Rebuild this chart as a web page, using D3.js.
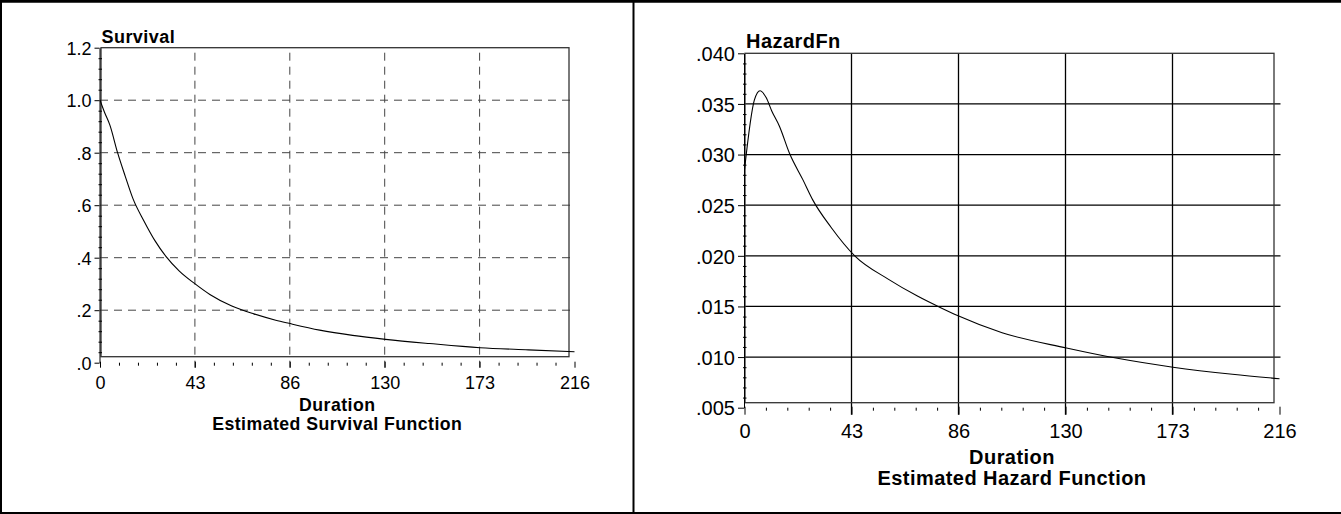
<!DOCTYPE html>
<html>
<head>
<meta charset="utf-8">
<script src="https://cdn.jsdelivr.net/npm/d3@7"></script>
<style>
  body { margin: 0; background: white; }
  svg text { font-family: "Liberation Sans", Arial, sans-serif; fill: black; }
</style>
</head>
<body>
<div id="chart"></div>
<script>
// ---- data ----
const xTicks = [0, 43.2, 86.4, 129.6, 172.8, 216]
const xTickLabels = ["0", "43", "86", "130", "173", "216"]

const survTicks = [0, 0.2, 0.4, 0.6, 0.8, 1.0, 1.2]
const survTickLabels = [".0", ".2", ".4", ".6", ".8", "1.0", "1.2"]
const survTime = [0, 2, 4.5, 8, 11.5, 15, 20, 25, 30, 36, 43, 50, 60, 70, 80, 86, 100, 115, 130, 150, 173, 195, 216]
const survValue = [1.0, 0.955, 0.905, 0.80, 0.71, 0.625, 0.54, 0.465, 0.405, 0.35, 0.302, 0.26, 0.216, 0.186, 0.162, 0.15, 0.124, 0.104, 0.089, 0.073, 0.057, 0.049, 0.042]

const hazTicks = [0.005, 0.010, 0.015, 0.020, 0.025, 0.030, 0.035, 0.040]
const hazTickLabels = [".005", ".010", ".015", ".020", ".025", ".030", ".035", ".040"]
const hazTime = [0, 4, 6.3, 8.8, 11, 14.1, 18.2, 23.6, 27.6, 35, 44.5, 58, 70, 79, 86, 104, 130, 150, 173, 197, 216]
const hazValue = [0.0285, 0.0354, 0.0363, 0.0356, 0.0343, 0.0328, 0.0301, 0.0275, 0.0255, 0.0228, 0.0200, 0.0177, 0.0160, 0.0149, 0.0141, 0.0124, 0.0109, 0.0099, 0.0090, 0.0083, 0.00786]

const svg = d3.select("#chart").append("svg")
    .attr("width", 1341)
    .attr("height", 514)

// outer frame and divider
svg.append("line").attr("x1", 0).attr("x2", 1341).attr("y1", 1.3).attr("y2", 1.3)
    .attr("stroke", "black").attr("stroke-width", 2.7)
svg.append("line").attr("x1", 1).attr("x2", 1).attr("y1", 0).attr("y2", 514)
    .attr("stroke", "black").attr("stroke-width", 2)
svg.append("line").attr("x1", 0).attr("x2", 1341).attr("y1", 513).attr("y2", 513)
    .attr("stroke", "black").attr("stroke-width", 2)
svg.append("line").attr("x1", 633.5).attr("x2", 633.5).attr("y1", 0).attr("y2", 514)
    .attr("stroke", "black").attr("stroke-width", 2)

function drawPanel(p) {
    const x = d3.scaleLinear().domain([0, 216]).range([p.xL, p.xR])
    const y = d3.scaleLinear().domain(p.yDomain).range([p.yB, p.yT])
    const g = svg.append("g")

    // grid
    const hGrid = p.yTicks.slice(1, -1)
    g.selectAll(".hgrid").data(hGrid).join("line")
        .attr("x1", p.xL).attr("x2", p.xR + 1)
        .attr("y1", d => y(d)).attr("y2", d => y(d))
        .attr("stroke", p.gridColor).attr("stroke-width", p.gridWidth)
        .attr("stroke-dasharray", p.dash)
    g.selectAll(".vgrid").data(xTicks.slice(1, -1)).join("line")
        .attr("x1", d => x(d)).attr("x2", d => x(d))
        .attr("y1", p.yT + p.vgridTop).attr("y2", p.yB + p.majorX)
        .attr("stroke", p.gridColor).attr("stroke-width", p.gridWidth)
        .attr("stroke-dasharray", p.dash)

    // plot frame (slightly inset from the axes)
    g.append("rect")
        .attr("x", p.frame[0]).attr("y", p.frame[2])
        .attr("width", p.frame[1] - p.frame[0]).attr("height", p.frame[3] - p.frame[2])
        .attr("fill", "none").attr("stroke", "#333").attr("stroke-width", 1.3)

    // y axis
    const yMinor = []
    for (let i = 0; i < p.yTicks.length - 1; i++) {
        const step = (p.yTicks[i + 1] - p.yTicks[i]) / 5
        for (let k = 1; k < 5; k++) yMinor.push(p.yTicks[i] + k * step)
    }
    const yAx = g.append("g").attr("transform", `translate(${p.xL - 0.5},0)`)
        .call(d3.axisLeft(y).tickValues(p.yTicks).tickFormat((d, i) => p.yLabels[i])
            .tickSize(p.majorY).tickSizeOuter(0).tickPadding(3))
    yAx.selectAll("text").attr("font-size", p.fs).attr("dy", "0.36em")
    yAx.select(".domain").attr("stroke", "black")
    g.append("g").attr("transform", `translate(${p.xL + 2},0)`)
        .call(d3.axisLeft(y).tickValues(yMinor).tickFormat("").tickSize(3.5).tickSizeOuter(0))
        .call(a => a.select(".domain").remove())

    // x axis: ticks only
    const xMinor = []
    for (let i = 0; i < xTicks.length - 1; i++) {
        const step = (xTicks[i + 1] - xTicks[i]) / 5
        for (let k = 1; k < 5; k++) xMinor.push(xTicks[i] + k * step)
    }
    const xAx = g.append("g").attr("transform", `translate(0,${p.yB - 1})`)
        .call(d3.axisBottom(x).tickValues(xTicks).tickFormat((d, i) => xTickLabels[i])
            .tickSize(p.majorX + 1).tickSizeOuter(0))
    xAx.select(".domain").remove()
    xAx.selectAll("text").attr("font-size", p.fs).attr("dy", 0).attr("y", p.xLabelOff + 1)
    g.append("g").attr("transform", `translate(0,${p.yB})`)
        .call(d3.axisBottom(x).tickValues(xMinor).tickFormat("").tickSize(3).tickSizeOuter(0))
        .call(a => a.select(".domain").remove())

    // curve
    const line = d3.line().x(d => x(d[0])).y(d => y(d[1])).curve(d3.curveMonotoneX)
    g.append("path")
        .datum(p.time.map((t, i) => [t, p.values[i]]))
        .attr("d", line)
        .attr("fill", "none").attr("stroke", "black").attr("stroke-width", 1.1)

    // texts
    g.append("text").attr("x", p.xL + 1.5).attr("y", p.titleY)
        .attr("font-size", p.fs).attr("font-weight", "bold").attr("letter-spacing", p.ls)
        .text(p.title)
    const cx = (p.xL + p.xR) / 2
    g.append("text").attr("x", cx).attr("y", p.xTitleY).attr("text-anchor", "middle")
        .attr("font-size", p.labFs).attr("font-weight", "bold").attr("letter-spacing", p.ls)
        .text("Duration")
    g.append("text").attr("x", cx).attr("y", p.captionY).attr("text-anchor", "middle")
        .attr("font-size", p.labFs).attr("font-weight", "bold").attr("letter-spacing", p.ls)
        .text(p.caption)
}

drawPanel({
    xL: 100, xR: 574.5, yT: 47.7, yB: 362.7,
    frame: [101, 569, 47.7, 356.7],
    yDomain: [0, 1.2], yTicks: survTicks, yLabels: survTickLabels,
    time: survTime, values: survValue,
    gridColor: "#444", gridWidth: 1, dash: "8,6", vgridTop: 5,
    majorY: 5, majorX: 5, fs: 18, labFs: 17.7, ls: 0.45, xLabelOff: 26.6,
    title: "Survival", titleY: 43,
    xTitleY: 410.5, captionY: 430, caption: "Estimated Survival Function"
})

drawPanel({
    xL: 744.5, xR: 1279.5, yT: 53.3, yB: 407.7,
    frame: [745, 1274, 53.3, 402.7],
    yDomain: [0.005, 0.040], yTicks: hazTicks, yLabels: hazTickLabels,
    time: hazTime, values: hazValue,
    gridColor: "black", gridWidth: 1.3, dash: null, vgridTop: 0,
    majorY: 6, majorX: 7, fs: 20, labFs: 20, ls: 0.45, xLabelOff: 30.7,
    title: "HazardFn", titleY: 48.3,
    xTitleY: 463.5, captionY: 485, caption: "Estimated Hazard Function"
})
</script>
</body>
</html>
